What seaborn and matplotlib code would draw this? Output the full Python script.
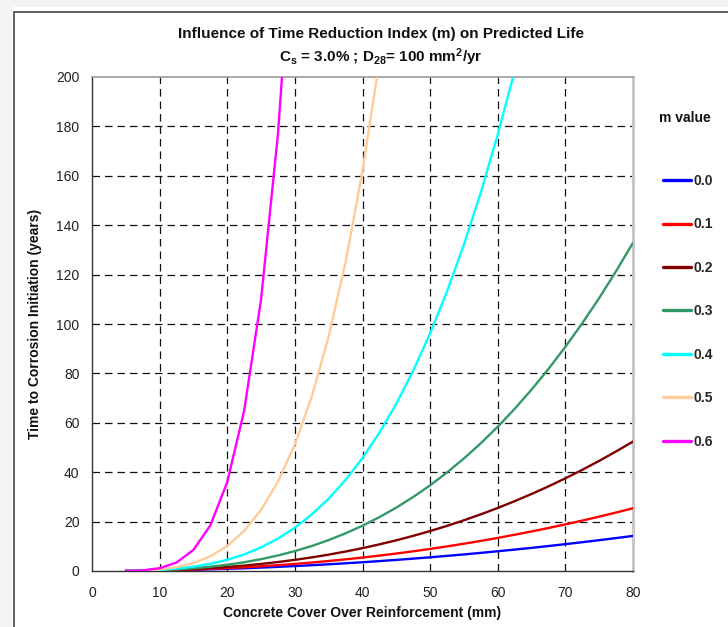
import matplotlib
matplotlib.use("Agg")
import matplotlib.pyplot as plt
import numpy as np
import pandas as pd
import seaborn as sns
from matplotlib.lines import Line2D
from matplotlib.patches import Rectangle

# ---------------- data ----------------
cover = [5, 7.5, 10, 12.5, 15, 17.5, 20, 22.5, 25, 27.5, 30, 32.5, 35, 37.5, 40,
         42.5, 45, 47.5, 50, 52.5, 55, 57.5, 60, 62.5, 65, 67.5, 70, 72.5, 75, 77.5, 80]

t_m00 = [0.06, 0.13, 0.22, 0.35, 0.50, 0.68, 0.89, 1.12, 1.39, 1.68, 2.00, 2.34, 2.72,
         3.12, 3.55, 4.01, 4.49, 5.01, 5.55, 6.12, 6.71, 7.34, 7.99, 8.67, 9.37, 10.11,
         10.87, 11.66, 12.48, 13.33, 14.2]
t_m01 = [0.05, 0.13, 0.25, 0.41, 0.62, 0.87, 1.17, 1.52, 1.92, 2.37, 2.87, 3.43, 4.05,
         4.72, 5.45, 6.23, 7.07, 7.98, 8.94, 9.96, 11.05, 12.19, 13.40, 14.68, 16.01,
         17.41, 18.88, 20.41, 22.01, 23.67, 25.4]
t_m02 = [0.05, 0.14, 0.29, 0.51, 0.80, 1.17, 1.64, 2.20, 2.86, 3.63, 4.51, 5.51, 6.63,
         7.88, 9.26, 10.78, 12.43, 14.23, 16.18, 18.28, 20.54, 22.95, 25.52, 28.27,
         31.18, 34.26, 37.53, 40.97, 44.59, 48.41, 52.4]
t_m03 = [0.05, 0.15, 0.35, 0.66, 1.11, 1.73, 2.53, 3.54, 4.79, 6.29, 8.06, 10.13, 12.52,
         15.26, 18.34, 21.81, 25.67, 29.97, 34.70, 39.90, 45.57, 51.74, 58.42, 65.64,
         73.44, 81.80, 90.76, 100.3, 110.5, 121.4, 132.9]
t_m04 = [0.05, 0.17, 0.45, 0.95, 1.74, 2.91, 4.54, 6.72, 9.55, 13.12, 17.53, 22.89, 29.30,
         36.89, 45.74, 55.98, 67.71, 81.11, 96.2, 113.2, 132.2, 153.3, 176.7, 202.4, 230.7]
t_m05 = [0.04, 0.20, 0.63, 1.55, 3.20, 5.94, 10.13, 16.22, 24.72, 36.19, 51.26, 70.60,
         94.96, 125.1, 162.0, 206.5]
t_m06 = [0.04, 0.27, 1.13, 3.43, 8.54, 18.46, 36.0, 64.9, 109.9, 177.0, 273.4]

m_values = ["0.0", "0.1", "0.2", "0.3", "0.4", "0.5", "0.6"]
series_times = [t_m00, t_m01, t_m02, t_m03, t_m04, t_m05, t_m06]
colors = ["#0000FF", "#FF0000", "#800000", "#339966", "#00FFFF", "#FFCC99", "#FF00FF"]

x_ticks = [0, 10, 20, 30, 40, 50, 60, 70, 80]
y_ticks = [0, 20, 40, 60, 80, 100, 120, 140, 160, 180, 200]

rows = []
for m, ts in zip(m_values, series_times):
    for c, t in zip(cover, ts):
        rows.append({"cover": c, "time": t, "m": m})
df = pd.DataFrame(rows)

# ---------------- style ----------------
sns.set_theme(style="white")
plt.rcParams["font.family"] = ["Liberation Sans", "DejaVu Sans"]
plt.rcParams["mathtext.fontset"] = "custom"
plt.rcParams["mathtext.rm"] = "Liberation Sans:bold"
plt.rcParams["mathtext.it"] = "Liberation Sans:bold"
plt.rcParams["mathtext.bf"] = "Liberation Sans:bold"

W, H = 728, 627
fig = plt.figure(figsize=(W / 100, H / 100), dpi=100)
fig.patch.set_facecolor("#f3f3f3")
fig.patches.append(Rectangle((12 / W, 0), 1, (H - 7) / H, transform=fig.transFigure,
                             facecolor="white", edgecolor="none", zorder=-10))
fig.add_artist(Line2D([13.5 / W, 13.5 / W], [0, 1 - 11.5 / H], color="#555555", lw=1.3,
                      transform=fig.transFigure))
fig.add_artist(Line2D([13.5 / W, 1], [1 - 11.5 / H, 1 - 11.5 / H], color="#555555", lw=1.3,
                      transform=fig.transFigure))

ax = fig.add_axes([92 / W, 56 / H, 541 / W, 494 / H])
ax.set_facecolor("white")

sns.lineplot(data=df, x="cover", y="time", hue="m", hue_order=m_values,
             palette=dict(zip(m_values, colors)), estimator=None, sort=True,
             linewidth=1.7, legend=False, ax=ax, zorder=3)

ax.set_xlim(0, 80)
ax.set_ylim(0, 200)
ax.set_xticks(x_ticks)
ax.set_yticks(y_ticks)

# interior dashed grid
for xv in x_ticks[1:-1]:
    ax.axvline(xv, color="#111111", lw=0.9, ls=(0, (6, 4)), zorder=1)
for yv in y_ticks[1:-1]:
    ax.axhline(yv, color="#111111", lw=0.9, ls=(0, (6, 4)), zorder=1)

for s in ["left", "bottom"]:
    ax.spines[s].set_color("#333333")
    ax.spines[s].set_linewidth(1.0)
ax.spines["top"].set_color("#9a9a9a")
ax.spines["top"].set_linewidth(1.2)
ax.spines["right"].set_color("#c4c4c4")
ax.spines["right"].set_linewidth(2.0)

ax.tick_params(axis="both", direction="inout", length=8, width=0.9, color="#333333",
               labelsize=10, labelcolor="#222222")
ax.tick_params(axis="y", pad=5)
ax.tick_params(axis="x", pad=7)

ax.set_xlabel("Concrete Cover Over Reinforcement (mm)", fontsize=10, fontweight="bold",
              color="#111111", labelpad=4)
ax.set_ylabel("Time to Corrosion Initiation (years)", fontsize=10, fontweight="bold",
              color="#111111", labelpad=10)

fig.text(381 / W, 1 - 34 / H, "Influence of Time Reduction Index (m) on Predicted Life",
         ha="center", va="center", fontsize=11, fontweight="bold", color="#111111")
fig.text(381 / W, 1 - 57 / H,
         r"C$_{\mathrm{s}}$ = 3.0% ; D$_{\mathrm{28}}$= 100 mm$^{\mathrm{2}}$/yr",
         ha="center", va="center", fontsize=11, fontweight="bold", color="#111111")

# legend
fig.text(685 / W, 1 - 118 / H, "m value", ha="center", va="center", fontsize=10,
         fontweight="bold", color="#111111")
handles = [Line2D([0], [0], color=c, lw=2.4) for c in colors]
fig.legend(handles, m_values, loc="upper left", bbox_to_anchor=(663 / W, 1 - 174 / H),
           frameon=False, borderpad=0, borderaxespad=0, labelspacing=2.12,
           handlelength=2.0, handletextpad=0.2,
           prop={"size": 10, "weight": "bold"})

fig.savefig("out.png", dpi=100, facecolor=fig.get_facecolor())
